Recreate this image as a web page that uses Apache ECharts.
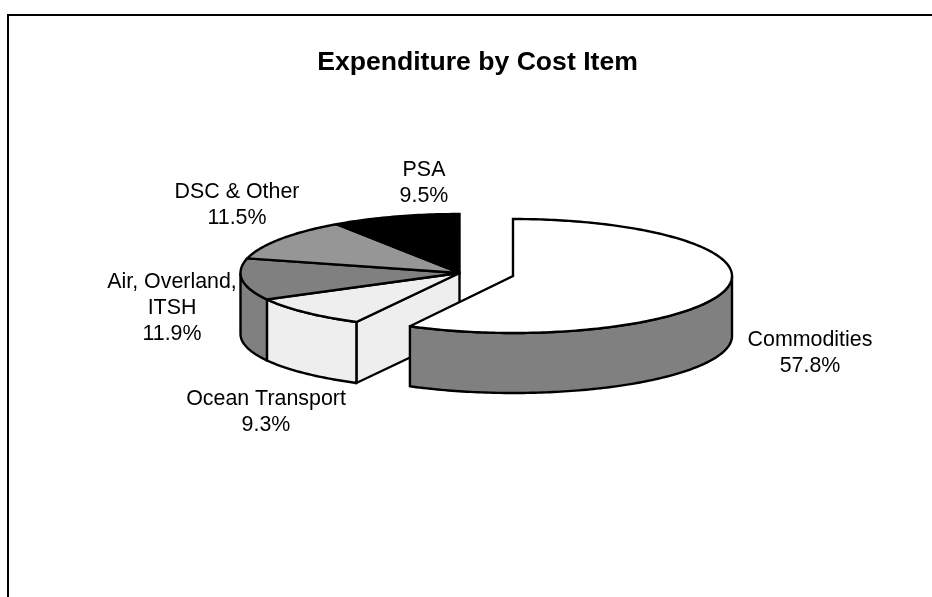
<!DOCTYPE html>
<html>
<head>
<meta charset="utf-8">
<style>html,body{margin:0;padding:0;background:#fff}#c{width:932px;height:597px}</style>
<script src="https://cdn.jsdelivr.net/npm/echarts@6/dist/echarts.min.js"></script>
</head>
<body>
<div id="c"></div>
<script>
// Data
const categories = ['Commodities', 'Ocean Transport', 'Air, Overland,\nITSH', 'DSC & Other', 'PSA'];
const shares = [57.8, 9.3, 11.9, 11.5, 9.5];
const chartTitle = 'Expenditure by Cost Item';

// Styling
const topColors = ['#ffffff', '#eeeeee', '#808080', '#969696', '#000000'];
const sideColors = ['#808080', '#eeeeee', '#808080', '#969696', '#000000'];

// Layout
const mainPie = { c: [459.5, 273], rx: 219, back: 59, front: 55.5, depth: 61 };
const explodedPie = { c: [513, 276], rx: 219, back: 57, front: 57, depth: 60 };
const explodedIndex = 0;
const labelCenters = [[810, 353], [266, 412], [172, 308], [237, 205.5], [424, 183.5]];
const font = '21.4px "Liberation Sans", Arial, sans-serif';
const total = shares.reduce((a, b) => a + b, 0);

function ptOn(p, deg, dy) {
  const a = deg * Math.PI / 180, co = Math.cos(a);
  return [p.c[0] + p.rx * Math.sin(a), p.c[1] - (co > 0 ? p.back : p.front) * co + (dy || 0)];
}
function arc(p, from, to, dy) {
  const pts = [], n = Math.max(2, Math.ceil(Math.abs(to - from)));
  for (let i = 0; i <= n; i++) pts.push(ptOn(p, from + (to - from) * i / n, dy));
  return pts;
}
function poly(points, fill, z2) {
  return { type: 'polygon', z2, shape: { points },
    style: { fill, stroke: '#000', lineWidth: 2.4, lineJoin: 'miter', miterLimit: 3 } };
}

const option = {
  animation: false,
  backgroundColor: '#ffffff',
  title: { text: chartTitle, left: 477.5, top: 49.5, padding: 0, textAlign: 'center',
    textStyle: { color: '#000', fontFamily: '"Liberation Sans", Arial, sans-serif', fontWeight: 'bold', fontSize: 26.6 } },
  graphic: [{ type: 'polyline', silent: true,
    shape: { points: [[8, 600], [8, 15], [940, 15]] },
    style: { fill: null, stroke: '#000', lineWidth: 2 } }],
  series: [{
    type: 'custom',
    coordinateSystem: 'none',
    silent: true,
    data: shares.map(v => [v]),
    renderItem(params, api) {
      const i = params.dataIndex;
      const before = shares.slice(0, i).reduce((a, b) => a + b, 0);
      const start = before / total * 360;
      const end = start + api.value(0) / total * 360;
      const exploded = i === explodedIndex;
      const pie = exploded ? explodedPie : mainPie;
      const base = exploded ? 20 : 0;
      const children = [];
      // cut face left open by the exploded slice
      if (i === (explodedIndex + 1) % shares.length) {
        const p = ptOn(pie, start);
        children.push(poly([pie.c, p, [p[0], p[1] + pie.depth], [pie.c[0], pie.c[1] + pie.depth]], sideColors[i], base + 1));
      }
      // outer wall: only the front half of the rim is visible
      const wf = Math.max(start, 90), wt = Math.min(end, 270);
      if (wt > wf) {
        children.push(poly(arc(pie, wf, wt, 0).concat(arc(pie, wt, wf, pie.depth)), sideColors[i], base + 2));
      }
      // top face
      children.push(poly([pie.c].concat(arc(pie, start, end, 0)), topColors[i], base + 3 + i));
      // label
      children.push({ type: 'text', z2: 50, style: {
        text: categories[i] + '\n' + shares[i].toFixed(1) + '%',
        x: labelCenters[i][0], y: labelCenters[i][1],
        align: 'center', verticalAlign: 'middle',
        font, lineHeight: 26, fill: '#000' } });
      return { type: 'group', children };
    }
  }]
};
echarts.init(document.getElementById('c'), null, { renderer: 'canvas' }).setOption(option);
</script>
</body>
</html>
